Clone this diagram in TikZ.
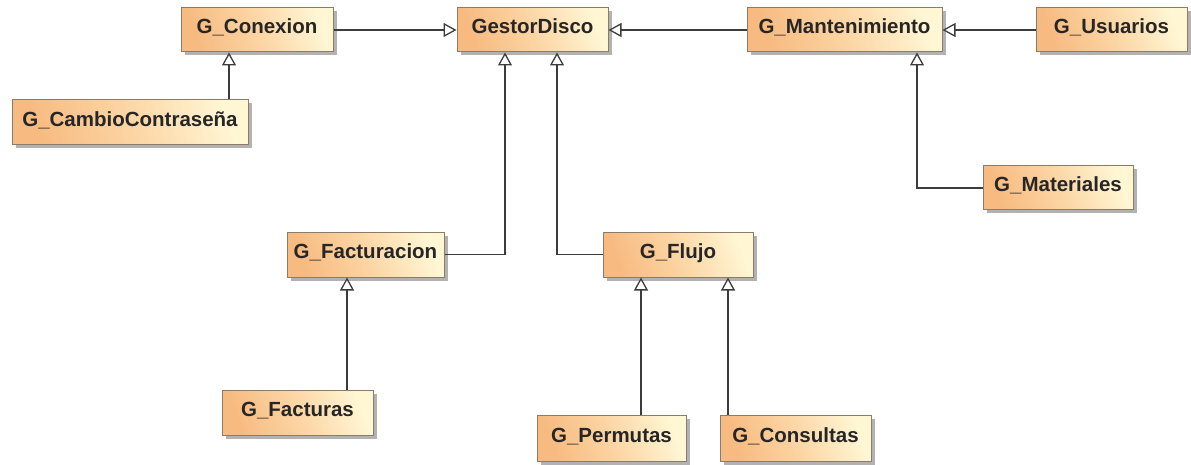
\documentclass[tikz,border=0pt]{standalone}
\usepackage{fontspec}
\setmainfont{Liberation Sans}
\usetikzlibrary{arrows.meta,shadows}
\definecolor{boxdark}{HTML}{F7BA80}
\definecolor{boxmid}{HTML}{FCD5A4}
\definecolor{boxlight}{HTML}{FFF6D4}
\definecolor{boxedge}{HTML}{8C7B66}
\definecolor{wire}{HTML}{3C3C3C}
\tikzset{
  cls/.style={draw=boxedge, line width=1pt, rectangle,
    shading=axis, top color=boxlight, bottom color=boxdark, middle color=boxmid,
    shading angle=-70,
    minimum height=44pt, inner sep=0pt,
    text height=15pt, text depth=7pt,
    font=\fontsize{20.5}{24}\selectfont\bfseries, text=black!85,
    drop shadow={shadow xshift=3.5pt, shadow yshift=-3.5pt, fill=black, opacity=0.3}},
  gen/.style={draw=wire, line width=1.3pt,
    -{Triangle[open, length=13pt, width=14pt, fill=white]}}
}
\begin{document}
\begin{tikzpicture}[x=1pt, y=-1pt]
\useasboundingbox (0,0) rectangle (1191,465);

% classes
\node[cls, minimum width=152pt] (con) at (257,30) {G\_Conexion};
\node[cls, minimum width=151pt] (gd) at (532.5,30) {GestorDisco};
\node[cls, minimum width=195pt] (man) at (844.5,30) {G\_Mantenimiento};
\node[cls, minimum width=151pt] (usu) at (1111.5,30) {G\_Usuarios};
\node[cls, minimum width=236pt, minimum height=45pt] (cam) at (130,122.5) {G\_CambioContraseña};
\node[cls, minimum width=157pt, minimum height=45pt] (fac) at (365.5,254.5) {G\_Facturacion};
\node[cls, minimum width=150pt, minimum height=45pt] (flu) at (678,254.5) {G\_Flujo};
\node[cls, minimum width=150pt] (mat) at (1058,188) {G\_Materiales};
\node[cls, minimum width=151pt, minimum height=45pt] (fas) at (297.5,412.5) {G\_Facturas};
\node[cls, minimum width=149pt, minimum height=46pt] (per) at (611.5,438) {G\_Permutas};
\node[cls, minimum width=151pt, minimum height=46pt] (cns) at (795.5,438) {G\_Consultas};

% generalizations
\draw[gen] (con.east) -- (gd.west);
\draw[gen] (man.west) -- (gd.east);
\draw[gen] (usu.west) -- (man.east);
\draw[gen] ([xshift=-28pt]con.south |- cam.north) -- ([xshift=-28pt]con.south);
\draw[gen] (fac.east) -| ([xshift=-27.5pt]gd.south);
\draw[gen] (flu.west) -| ([xshift=24.5pt]gd.south);
\draw[gen] (mat.west) -| ([xshift=72.5pt]man.south);
\draw[gen] ([xshift=-18.5pt]fac.south |- fas.north) -- ([xshift=-18.5pt]fac.south);
\draw[gen] ([xshift=-37pt]flu.south |- per.north) -- ([xshift=-37pt]flu.south);
\draw[gen] ([xshift=50pt]flu.south |- cns.north) -- ([xshift=50pt]flu.south);
\end{tikzpicture}
\end{document}
